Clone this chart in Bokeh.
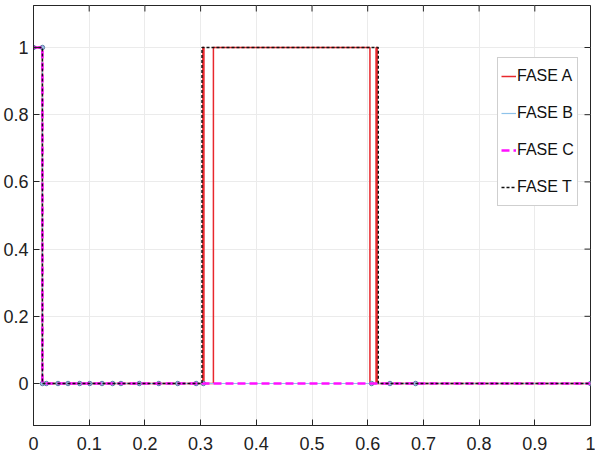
import math
from bokeh.plotting import figure
from bokeh.models import FixedTicker, LinearAxis, Legend, LegendItem, Grid
from bokeh.embed import file_html
from bokeh.resources import INLINE

# ---- data ----
t_a = [0, 0.016, 0.016, 0.304, 0.304, 0.306, 0.306, 0.323, 0.323, 0.604, 0.604, 0.615, 0.615, 0.617, 0.617, 1.0]
v_a = [1, 1, 0, 0, 1, 1, 0, 0, 1, 1, 0, 0, 1, 1, 0, 0]

t_b = [0, 0.016, 0.016, 0.023, 0.044, 0.062, 0.083, 0.101, 0.123, 0.142, 0.157, 0.190, 0.225, 0.259,
       0.292, 0.305, 0.607, 0.640, 0.686, 1.0]
v_b = [1, 1, 0, 0, 0, 0, 0, 0, 0, 0, 0, 0, 0, 0, 0, 0, 0, 0, 0, 0]

t_c = [0, 0.016, 0.016, 1.0]
v_c = [1, 1, 0, 0]

t_t = [0, 0.016, 0.016, 0.3025, 0.3025, 0.619, 0.619, 1.0]
v_t = [1, 1, 0, 0, 1, 1, 0, 0]

x_ticks = [0, 0.1, 0.2, 0.3, 0.4, 0.5, 0.6, 0.7, 0.8, 0.9, 1.0]
y_ticks = [0, 0.2, 0.4, 0.6, 0.8, 1.0]
names = ["FASE A", "FASE B", "FASE C", "FASE T"]

X_RANGE = (0, 1)
Y_RANGE = (-0.125, 1.125)

FONT = "Liberation Sans"
AX = "#262626"

p = figure(width=595, height=459, output_backend="svg", toolbar_location=None,
           x_range=X_RANGE, y_range=Y_RANGE,
           min_border_left=33, min_border_right=5, min_border_top=5, min_border_bottom=34,
           x_axis_type=None, y_axis_type=None)
p.outline_line_color = AX
p.outline_line_width = 1
p.background_fill_color = "white"
p.border_fill_color = "white"

def style_axis(ax, ticks):
    ax.ticker = FixedTicker(ticks=ticks)
    ax.axis_line_color = AX
    ax.major_tick_line_color = AX
    ax.major_tick_in = 6
    ax.major_tick_out = 0
    ax.minor_tick_line_color = None
    ax.major_label_text_font = FONT
    ax.major_label_text_color = "#222222"
    ax.major_label_text_font_size = "18px"

xb = LinearAxis(); style_axis(xb, x_ticks)
xb.major_label_overrides = {0: "0", 1.0: "1"}
xb.major_label_standoff = 11
yl = LinearAxis(); style_axis(yl, y_ticks)
yl.major_label_overrides = {0: "0", 1.0: "1"}
yl.major_label_standoff = 5
p.add_layout(xb, "below")
p.add_layout(yl, "left")

p.add_layout(Grid(dimension=0, ticker=FixedTicker(ticks=x_ticks), grid_line_color="#ebebeb"))
p.add_layout(Grid(dimension=1, ticker=FixedTicker(ticks=y_ticks), grid_line_color="#ebebeb"))

# inward tick marks on the top and right edges of the box (half of each dash is clipped by the frame)
p.scatter(x_ticks, [Y_RANGE[1]] * len(x_ticks), marker="dash", angle=math.pi / 2, size=12,
          line_color=AX, line_width=1)
p.scatter([X_RANGE[1]] * len(y_ticks), y_ticks, marker="dash", angle=0, size=12,
          line_color=AX, line_width=1)

ra = p.line(t_a, v_a, line_color="#e8282d", line_width=1.5)
rb = p.line(t_b, v_b, line_color="#8ec3ea", line_width=1.2)
p.scatter(t_b, v_b, marker="circle", size=4.5, fill_color="#9cc3e6", line_color="#5f7fa8", line_width=1)
rc = p.line(t_c, v_c, line_color="#ff10ff", line_width=2.6, line_dash="8 4")
rt = p.line(t_t, v_t, line_color="#111111", line_width=1.4, line_dash="3 2")

legend = Legend(items=[LegendItem(label=n, renderers=[r]) for n, r in zip(names, [ra, rb, rc, rt])],
                location=(464, 219))
legend.label_text_font = FONT
legend.label_text_font_size = "16px"
legend.label_text_color = "#111111"
legend.glyph_width = 15
legend.glyph_height = 30
legend.label_height = 30
legend.label_standoff = 1
legend.spacing = 7
legend.padding = 3
legend.margin = 0
legend.border_line_color = "#a0a0a0"
legend.border_line_width = 1
legend.background_fill_color = "white"
legend.background_fill_alpha = 1
p.add_layout(legend, "center")

open("out.html", "w").write(file_html(p, INLINE))
